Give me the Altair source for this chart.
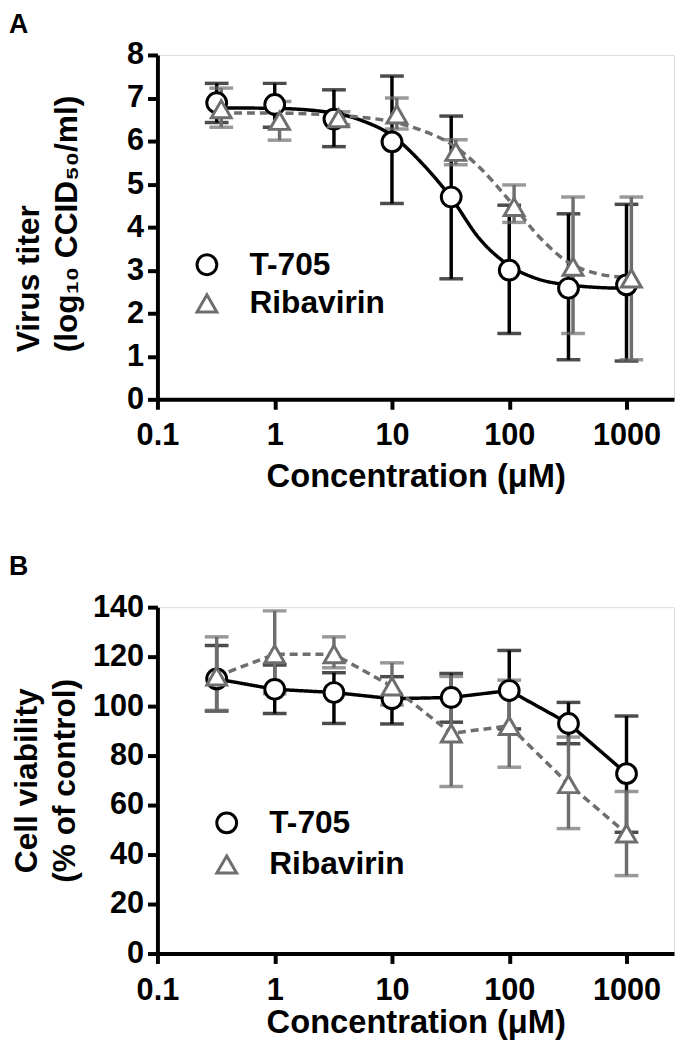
import altair as alt
import pandas as pd

# ---------------- data ----------------
conc = [0.32, 1, 3.2, 10, 32, 100, 320, 1000]
conc_rib_a = [0.35, 1.1, 3.5, 11, 35, 110, 350, 1100]

t705_titer = [6.89, 6.85, 6.51, 5.98, 4.70, 3.00, 2.58, 2.66]
t705_titer_hi = [7.34, 7.34, 7.19, 7.51, 6.58, 4.51, 4.31, 4.53]
t705_titer_lo = [6.43, 6.32, 5.87, 4.55, 2.80, 1.53, 0.92, 0.89]
rib_titer = [6.74, 6.47, 6.53, 6.62, 5.75, 4.47, 3.08, 2.81]
rib_titer_hi = [7.23, 6.92, 6.68, 7.00, 6.03, 4.98, 4.70, 4.70]
rib_titer_lo = [6.32, 6.02, 6.38, 6.28, 5.45, 4.11, 1.53, 0.92]

fit_x_t705 = [0.32, 1, 3.2, 5.6, 10, 17.8, 31.6, 56.2, 100, 178, 316, 562, 1000]
fit_y_t705 = [6.77, 6.76, 6.65, 6.47, 6.13, 5.50, 4.70, 3.72, 3.11, 2.79, 2.66, 2.60, 2.58]
fit_x_rib = [0.35, 1, 3.2, 5.6, 10, 17.8, 31.6, 56.2, 100, 178, 316, 562, 1000, 1100]
fit_y_rib = [6.65, 6.65, 6.60, 6.55, 6.45, 6.25, 5.94, 5.38, 4.62, 3.79, 3.19, 2.92, 2.83, 2.82]

t705_via = [111.0, 106.8, 105.5, 103.0, 103.5, 106.3, 93.0, 72.7]
t705_via_hi = [124.5, 116.6, 113.5, 111.9, 113.2, 122.5, 101.5, 96.0]
t705_via_lo = [98.0, 97.0, 93.0, 92.8, 93.5, 90.8, 84.8, 49.0]
rib_via = [112.0, 121.0, 121.0, 108.0, 89.0, 92.0, 68.5, 48.5]
rib_via_hi = [128.0, 138.5, 128.0, 117.5, 112.0, 110.5, 87.5, 65.5]
rib_via_lo = [98.3, 105.0, 115.5, 100.4, 67.5, 75.3, 50.5, 31.5]

series = ["T-705", "Ribavirin"]
GRAY = "#6e6e6e"
FONT = "Liberation Sans"
COLORS = {"T-705": "black", "Ribavirin": GRAY}
DASHES = {"T-705": [1, 0], "Ribavirin": [8, 5]}


def pts(name, xs, m, hi, lo):
    return pd.DataFrame({"conc": xs, "mean": m, "hi": hi, "lo": lo, "series": name})


dataA = {
    "T-705": pts("T-705", conc, t705_titer, t705_titer_hi, t705_titer_lo),
    "Ribavirin": pts("Ribavirin", conc_rib_a, rib_titer, rib_titer_hi, rib_titer_lo),
}
dataB = {
    "T-705": pts("T-705", conc, t705_via, t705_via_hi, t705_via_lo),
    "Ribavirin": pts("Ribavirin", conc, rib_via, rib_via_hi, rib_via_lo),
}
fitA = {
    "T-705": pd.DataFrame({"conc": fit_x_t705, "mean": fit_y_t705}),
    "Ribavirin": pd.DataFrame({"conc": fit_x_rib, "mean": fit_y_rib}),
}

color_scale = alt.Scale(domain=series, range=["black", GRAY])
shape_scale = alt.Scale(domain=series, range=["circle", "triangle-up"])


def x_enc(title_padding):
    ax = alt.Axis(
        values=[0.1, 1, 10, 100, 1000], format="~g", title="Concentration (μM)",
        labelFontSize=31, titleFontSize=33, labelFont=FONT, titleFont=FONT,
        labelFontWeight="bold", titleFontWeight="bold", labelColor="black", titleColor="black",
        domainWidth=4, tickWidth=4, tickSize=10, domainColor="black", tickColor="black",
        labelPadding=12, titlePadding=title_padding, grid=False, labelFlush=False,
        labelOverlap=False,
    )
    return alt.X("conc:Q", scale=alt.Scale(type="log", domain=[0.1, 2541], nice=False), axis=ax)


def y_axis(values, title, title_padding, **kw):
    return alt.Axis(
        values=values, title=title, labelFontSize=31, titleFontSize=32,
        labelFont=FONT, titleFont=FONT, labelFontWeight="bold", titleFontWeight="bold",
        labelColor="black", titleColor="black", domainWidth=4, tickWidth=4, tickSize=10,
        domainColor="black", tickColor="black", labelPadding=4, titlePadding=title_padding,
        titleLineHeight=38, grid=False, **kw,
    )


def legend(lx, ly, row_pad):
    return alt.Legend(
        orient="none", legendX=lx, legendY=ly, title=None,
        labelFontSize=32, labelFont=FONT, labelFontWeight="bold", labelColor="black",
        symbolSize=400, symbolStrokeWidth=3, symbolFillColor="white",
        labelOffset=27, rowPadding=row_pad,
    )


def panel(data, fits, y_dom, y_ax, xe, leg, letter, height, t_off):
    y_scale = alt.Scale(domain=y_dom, nice=False)
    layers = []
    for s in series:
        c = COLORS[s]
        base = alt.Chart(data[s])
        layers.append(base.mark_rule(strokeWidth=3.5, color=c).encode(
            x=xe, y=alt.Y("lo:Q", scale=y_scale, axis=y_ax), y2="hi:Q"))
        layers.append(base.mark_tick(orient="horizontal", size=24, thickness=3.5, color=c).encode(
            x=xe, y=alt.Y("hi:Q", scale=y_scale, axis=y_ax)))
        layers.append(base.mark_tick(orient="horizontal", size=24, thickness=3.5, color=c).encode(
            x=xe, y=alt.Y("lo:Q", scale=y_scale, axis=y_ax)))
    for s in series:
        c = COLORS[s]
        if fits is not None:
            layers.append(alt.Chart(fits[s]).mark_line(
                strokeWidth=3.5, color=c, strokeDash=DASHES[s], interpolate="monotone").encode(
                x=xe, y=alt.Y("mean:Q", scale=y_scale, axis=y_ax)))
        else:
            layers.append(alt.Chart(data[s]).mark_line(
                strokeWidth=3.5, color=c, strokeDash=DASHES[s]).encode(
                x=xe, y=alt.Y("mean:Q", scale=y_scale, axis=y_ax)))
    allpts = pd.concat([data[s] for s in series], ignore_index=True)
    layers.append(alt.Chart(allpts).mark_point(
        filled=False, fill="white", size=400, strokeWidth=3, opacity=1).encode(
        x=xe, y=alt.Y("mean:Q", scale=y_scale, axis=y_ax),
        color=alt.Color("series:N", scale=color_scale, legend=leg),
        shape=alt.Shape("series:N", scale=shape_scale, legend=leg),
    ))
    return alt.layer(*layers).properties(
        width=522, height=height,
        title=alt.TitleParams(text=letter, anchor="start", frame="group", dx=-150,
                              fontSize=27, font=FONT, fontWeight="bold", color="black",
                              offset=t_off),
    )


axA = y_axis(list(range(0, 9)), ["Virus titer", "(log₁₀ CCID₅₀/ml)"], 44,
             titleAlign="left", titleY=300)
axB = y_axis(list(range(0, 141, 20)), ["Cell viability", "(% of control)"], 11)

chartA = panel(dataA, fitA, [0, 8], axA, x_enc(10), legend(34, 196, 7), "A", 348, 0)
chartB = panel(dataB, None, [0, 140], axB, x_enc(2), legend(54, 202, 10), "B", 350, 11)

chart = alt.vconcat(chartA, chartB, spacing=210, bounds="flush").resolve_scale(
    color="independent", shape="independent", x="independent", y="independent",
).resolve_legend(color="independent", shape="independent").properties(
    padding={"left": 0, "top": -3, "right": 0, "bottom": 0}, background="white"
).configure_view(stroke=None).configure(font=FONT)

chart.save("out.html", embed_options={"renderer": "svg", "actions": False})
